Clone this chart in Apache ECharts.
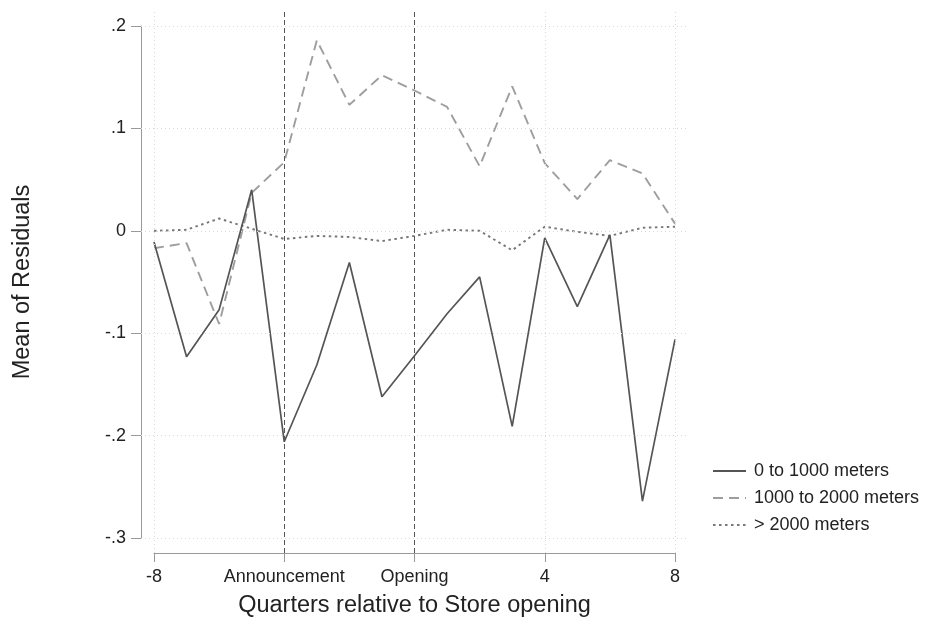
<!DOCTYPE html>
<html><head><meta charset="utf-8">
<script src="https://cdn.jsdelivr.net/npm/echarts@6/dist/echarts.min.js"></script>
<style>html,body{margin:0;background:#fff}#c{width:929px;height:619px}</style>
</head><body><div id="c"></div>
<script>
const quarters = [-8,-7,-6,-5,-4,-3,-2,-1,0,1,2,3,4,5,6,7,8];
const near = [-0.011,-0.123,-0.077,0.040,-0.206,-0.131,-0.031,-0.162,-0.122,-0.081,-0.045,-0.191,-0.007,-0.074,-0.004,-0.264,-0.106];
const mid  = [-0.017,-0.012,-0.091,0.037,0.067,0.186,0.123,0.152,0.137,0.121,0.063,0.141,0.066,0.031,0.069,0.056,0.007];
const far  = [0.000,0.001,0.012,0.002,-0.008,-0.005,-0.006,-0.010,-0.005,0.001,0.000,-0.019,0.004,-0.001,-0.005,0.003,0.004];
const seriesNames = ['0 to 1000 meters','1000 to 2000 meters','> 2000 meters'];
const xTickValues = [-8,-4,0,4,8];
const xTickLabels = ['-8','Announcement','Opening','4','8'];
const yTickValues = [-0.3,-0.2,-0.1,0,0.1,0.2];
const yTickLabels = ['-.3','-.2','-.1','0','.1','.2'];
const eventLines = [-4, 0];

const FONT = "'Liberation Sans', Arial, sans-serif";
function lookup(vals, labels, v){
  for (let i=0;i<vals.length;i++) if (Math.abs(vals[i]-v)<1e-9) return labels[i];
  return '';
}
const pairs = arr => quarters.map((q,i)=>[q, arr[i]]);
const gridStyle = {color:'#d9d9d9', type:[1,3], width:1};
const eventStyle = {color:'#555', type:[5,3], width:1};

const chart = echarts.init(document.getElementById('c'), null, {renderer:'canvas'});
chart.setOption({
  animation:false,
  backgroundColor:'#fff',
  textStyle:{fontFamily:FONT},
  grid:[
    {left:141, right:241, top:10, bottom:66, containLabel:false, outerBoundsMode:'none'},
    {left:154, right:254, top:26, bottom:81, containLabel:false, outerBoundsMode:'none'}
  ],
  xAxis:[
    {gridIndex:0, type:'value', min:-8.399, max:8.399, show:false},
    {gridIndex:1, type:'value', min:-8, max:8, interval:4, position:'bottom', offset:15,
     axisLine:{show:true, onZero:false, lineStyle:{color:'#999', width:1}},
     axisTick:{show:true, length:9, lineStyle:{color:'#999'}},
     axisLabel:{fontSize:18, color:'#222', margin:15, fontFamily:FONT,
       formatter:v=>lookup(xTickValues, xTickLabels, v)},
     splitLine:{show:false},
     name:'Quarters relative to Store opening', nameLocation:'middle', nameGap:41,
     nameTextStyle:{fontSize:23.5, color:'#222', fontFamily:FONT}}
  ],
  yAxis:[
    {gridIndex:0, type:'value', min:-0.3146, max:0.2156, show:false},
    {gridIndex:1, type:'value', min:-0.3, max:0.2, interval:0.1, position:'left', offset:13,
     axisLine:{show:true, onZero:false, lineStyle:{color:'#999', width:1}},
     axisTick:{show:true, length:10, lineStyle:{color:'#999'}},
     axisLabel:{fontSize:18, color:'#222', margin:15, fontFamily:FONT,
       formatter:v=>lookup(yTickValues, yTickLabels, v)},
     splitLine:{show:false},
     name:'Mean of Residuals', nameLocation:'middle', nameGap:106, nameRotate:90,
     nameTextStyle:{fontSize:23.5, color:'#222', fontFamily:FONT}}
  ],
  legend:{
    orient:'vertical', left:707, top:457, itemWidth:33, itemHeight:14, itemGap:9,
    data:seriesNames,
    itemStyle:{opacity:0},
    textStyle:{fontSize:18, color:'#222', fontFamily:FONT, padding:[0,0,0,3]}
  },
  series:[
    {name:'guides', type:'line', xAxisIndex:0, yAxisIndex:0, data:[], z:1, silent:true,
     markLine:{silent:true, symbol:['none','none'], label:{show:false}, animation:false,
       data:[
         ...xTickValues.filter(v=>eventLines.indexOf(v)<0).map(v=>({xAxis:v, lineStyle:gridStyle})),
         ...yTickValues.map(v=>({yAxis:v, lineStyle:gridStyle})),
         ...eventLines.map(v=>({xAxis:v, lineStyle:eventStyle}))
       ]}},
    {name:seriesNames[0], type:'line', xAxisIndex:0, yAxisIndex:0, data:pairs(near), symbol:'none', z:4,
     lineStyle:{color:'#555', width:1.7, type:'solid'}, itemStyle:{color:'#555'}},
    {name:seriesNames[1], type:'line', xAxisIndex:0, yAxisIndex:0, data:pairs(mid), symbol:'none', z:3,
     lineStyle:{color:'#9e9e9e', width:1.9, type:[10,6]}, itemStyle:{color:'#9e9e9e'}},
    {name:seriesNames[2], type:'line', xAxisIndex:0, yAxisIndex:0, data:pairs(far), symbol:'none', z:2,
     lineStyle:{color:'#777', width:1.9, type:[2.5,3.5]}, itemStyle:{color:'#777'}}
  ]
});
</script></body></html>
